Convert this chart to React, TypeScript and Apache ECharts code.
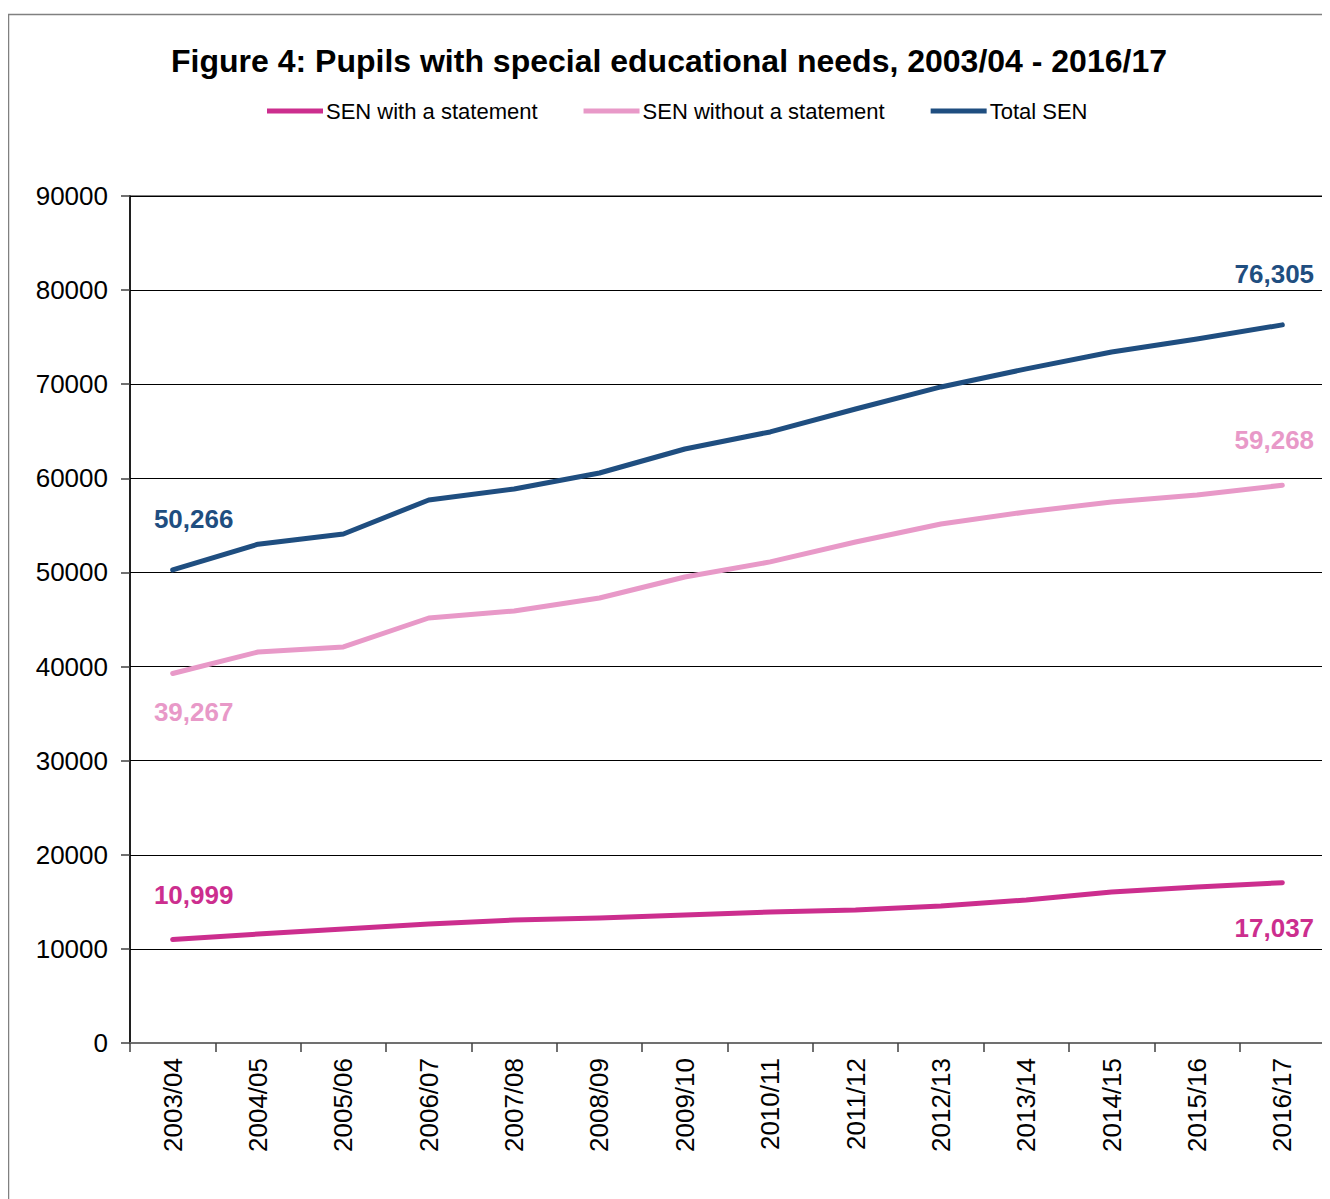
import React, { useEffect, useRef } from "react";
import * as echarts from "echarts";

const categories = [
  "2003/04", "2004/05", "2005/06", "2006/07", "2007/08", "2008/09", "2009/10",
  "2010/11", "2011/12", "2012/13", "2013/14", "2014/15", "2015/16", "2016/17",
];
const withStatement = [10999, 11580, 12110, 12650, 13070, 13280, 13600, 13920, 14130, 14560, 15200, 16050, 16580, 17037];
const withoutStatement = [39267, 41550, 42080, 45160, 45910, 47290, 49520, 51120, 53240, 55150, 56430, 57490, 58240, 59268];
const totalSEN = [50266, 53000, 54090, 57700, 58870, 60570, 63120, 64930, 67370, 69710, 71630, 73430, 74810, 76305];
const yTicks = [0, 10000, 20000, 30000, 40000, 50000, 60000, 70000, 80000, 90000];

const C_STATE = "#CC2E8E";
const C_WITHOUT = "#E899C8";
const C_TOTAL = "#1F4E80";
const FONT = "'Liberation Sans', Arial, sans-serif";

function fmt(v: number) {
  return v.toLocaleString("en-US");
}

function labelled(values: number[], color: string, firstOff: number[], lastOff: number[]) {
  const last = values.length - 1;
  return values.map((v, i) => {
    if (i === 0 || i === last) {
      return {
        value: v,
        label: {
          show: true,
          position: "inside",
          offset: i === 0 ? firstOff : lastOff,
          formatter: () => fmt(v),
          color,
          fontFamily: FONT,
          fontWeight: "bold",
          fontSize: 26,
        },
      };
    }
    return v;
  });
}

export default function App() {
  const ref = useRef<HTMLDivElement>(null);
  useEffect(() => {
    if (!ref.current) return;
    const chart = echarts.init(ref.current, undefined, { renderer: "svg" });
    const lineSeries = (name: string, values: number[], color: string, f: number[], l: number[]) => ({
      name,
      type: "line",
      data: labelled(values, color, f, l),
      symbol: "circle",
      symbolSize: 1,
      itemStyle: { color },
      lineStyle: { color, width: 5, cap: "round", join: "round" },
      label: { show: false },
      emphasis: { disabled: true },
      z: 3,
    });
    chart.setOption({
      animation: false,
      backgroundColor: "#ffffff",
      textStyle: { fontFamily: FONT },
      title: {
        text: "Figure 4: Pupils with special educational needs, 2003/04 - 2016/17",
        left: "center",
        top: 32,
        textStyle: { fontFamily: FONT, fontSize: 32, fontWeight: "bold", color: "#000" },
      },
      legend: {
        top: 87,
        left: 254,
        itemWidth: 56,
        itemHeight: 5,
        itemGap: 46,
        icon: "rect",
        textStyle: { fontFamily: FONT, fontSize: 22, color: "#000", padding: [0, 0, 0, -2] },
        data: ["SEN with a statement", "SEN without a statement", "Total SEN"],
      },
      grid: {
        left: 122,
        top: 188,
        right: 5,
        bottom: 156,
        show: true,
        borderColor: "#808080",
        borderWidth: 2,
      },
      xAxis: {
        type: "category",
        data: categories,
        boundaryGap: true,
        axisLine: { show: true, lineStyle: { color: "#707070", width: 2 } },
        axisTick: { show: true, alignWithLabel: false, length: 9, lineStyle: { color: "#404040", width: 1.5 } },
        axisLabel: { rotate: 90, fontSize: 26, color: "#000", fontFamily: FONT, margin: 15 },
        splitLine: { show: false },
      },
      yAxis: {
        type: "value",
        min: 0,
        max: 90000,
        interval: 10000,
        axisLine: { show: true, lineStyle: { color: "#000", width: 1.5 } },
        axisTick: { show: true, inside: false, length: 9, lineStyle: { color: "#404040", width: 1.5 } },
        axisLabel: {
          fontSize: 26,
          color: "#000",
          fontFamily: FONT,
          margin: 22,
          formatter: (v: number) => (yTicks.includes(v) ? String(v) : ""),
        },
        splitLine: { show: true, lineStyle: { color: "#000", width: 1 } },
      },
      graphic: [
        {
          type: "rect",
          shape: { x: 0.5, y: 6.5, width: 1340, height: 1200 },
          style: { fill: "none", stroke: "#808080", lineWidth: 1.5 },
          silent: true,
          z: -1,
        },
      ],
      series: [
        lineSeries("SEN with a statement", withStatement, C_STATE, [21, -44], [-8, 45]),
        lineSeries("SEN without a statement", withoutStatement, C_WITHOUT, [21, 39], [-8, -45]),
        lineSeries("Total SEN", totalSEN, C_TOTAL, [21, -51], [-8, -51]),
      ],
    });
    return () => chart.dispose();
  }, []);
  return <div ref={ref} style={{ width: 1322, height: 1191 }} />;
}
